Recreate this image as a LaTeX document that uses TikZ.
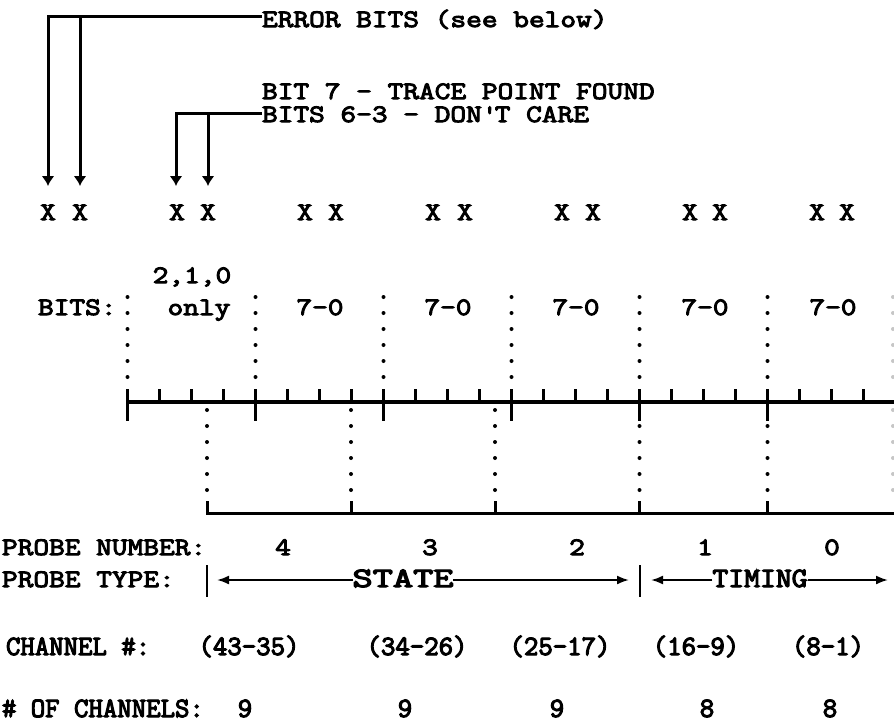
\documentclass[tikz,border=0pt]{standalone}
\usepackage{fontspec}
\usepackage{graphicx}
\newfontfamily\topfont{Latin Modern Mono}[FakeStretch=1.22, FakeBold=4]
\newfontfamily\botfont{Latin Modern Mono}[FakeBold=4]
\usetikzlibrary{arrows.meta}
\newcommand\myfs{\topfont\fontsize{25}{30}\selectfont}
\newcommand\mybfs{\botfont\fontsize{28}{32}\selectfont}
\begin{document}
\begin{tikzpicture}[x=1pt,y=-1pt,
  txt/.style={font=\myfs, inner sep=0pt, outer sep=0pt, anchor=base},
  btxt/.style={font=\mybfs, inner sep=0pt, outer sep=0pt, anchor=base},
  ln/.style={line width=3pt},
  arr/.style={line width=3pt, -{Latex[length=10pt,width=13pt]}},
  thinarr/.style={line width=2pt, -{Latex[length=12pt,width=9pt]}},
  bar/.style={line width=2.5pt},
  dots/.style={line width=4pt, line cap=round, dash pattern=on 0pt off 16pt},
]
\useasboundingbox (0,0) rectangle (894,723);

% ---- top labels and connectors
\node[txt, anchor=base west] (err) at (262,27) {ERROR BITS (see below)};
\node[txt, anchor=base west] (bit7) at (262,99) {BIT 7 - TRACE POINT FOUND};
\node[txt, anchor=base west] (bits63) at (262,122) {BITS 6-3 - DON\textquotesingle T CARE};

\coordinate (c1) at (48,16);  \coordinate (c2) at (80,16);
\coordinate (c3) at (176,113); \coordinate (c4) at (208,113);
\coordinate (a1) at (48,186);  \coordinate (a2) at (80,186);
\coordinate (a3) at (176,186); \coordinate (a4) at (208,186);

\draw[arr] (c1 -| err.west) -- (c1) -- (a1);
\draw[arr] (c2) -- (a2);
\draw[arr] (c3 -| bits63.west) -- (c3) -- (a3);
\draw[arr] (c4) -- (a4);

% ---- X row
\foreach \i/\x in {1/48,2/80,3/177,4/208,5/305,6/336,7/433,8/465,9/562,10/593,11/690,12/720,13/817,14/847}
  \node[txt] (x\i) at (\x,220) {X};

% ---- BITS row
\node[txt] (b210) at (192,283) {2,1,0};
\node[txt, anchor=base west] (bits) at (38,315) {BITS:};
\node[txt] (only) at (199,315) {only};
\foreach \i/\x in {1/320,2/448,3/576,4/705,5/833}
  \node[txt] (b\i) at (\x,315) {7-0};

% ---- upper dotted lines
\foreach \x in {127.5,255.5,383.5,511.5,639.5,767.5}
  \draw[dots] (\x,297) -- (\x,378);
\draw[dots, gray!45] (893,297) -- (893,378);

% ---- ruler
\draw[line width=3.5pt] (127.5,402) -- (894,402);
\foreach \k in {0,...,5}
  \draw[ln] ({127.5+128*\k},389) -- ({127.5+128*\k},421);
\foreach \k in {0,...,5}
  \foreach \m in {1,2,3}
    \draw[ln] ({127.5+128*\k+32*\m},389) -- ({127.5+128*\k+32*\m},402);

% ---- lower dotted lines
\foreach \x in {207,351,495}
  \draw[dots] (\x,410) -- (\x,491);
\foreach \x in {639.5,767.5}
  \draw[dots] (\x,426) -- (\x,491);
\draw[dots, gray!45] (893,410) -- (893,491);

% ---- lower bracket
\draw[ln] (207,501) -- (207,513) -- (894,513);
\foreach \x in {351,495,639.5,767.5}
  \draw[ln] (\x,501) -- (\x,513);

% ---- probe number
\node[txt, anchor=base west] (pnum) at (2,555) {PROBE NUMBER:};
\foreach \i/\x/\t in {4/283/4,3/430/3,2/577/2,1/705/1,0/832/0}
  \node[txt] (p\i) at (\x,555) {\t};

% ---- probe type
\node[txt, anchor=base west] (ptype) at (2,587) {PROBE TYPE:};
\draw[bar] (207,565) -- (207,597);
\draw[bar] (640,565) -- (640,597);
\node[btxt] (state) at (403,587) {\scalebox{1.4}[1.0]{STATE}};
\node[btxt] (timing) at (760,587) {\scalebox{1.1}[1.0]{TIMING}};
\coordinate (sL) at (217,580); \coordinate (sR) at (629,580);
\coordinate (tL) at (651,580); \coordinate (tR) at (888,580);
\draw[thinarr] (state.west |- sL) -- (sL);
\draw[thinarr] (state.east |- sR) -- (sR);
\draw[thinarr] (timing.west |- tL) -- (tL);
\draw[thinarr] (timing.east |- tR) -- (tR);

% ---- channel numbers
\node[btxt, anchor=base west] (chn) at (6,655) {CHANNEL \#:};
\foreach \i/\x/\t in {4/249/(43-35),3/417/(34-26),2/560/(25-17),1/696/(16-9),0/828/(8-1)}
  \node[btxt] (ch\i) at (\x,655) {\t};

% ---- number of channels
\node[btxt, anchor=base west] (noc) at (2,717) {\# OF CHANNELS:};
\foreach \i/\x/\t in {4/245/9,3/405/9,2/557/9,1/707/8,0/830/8}
  \node[btxt] (n\i) at (\x,717) {\t};
\end{tikzpicture}
\end{document}
